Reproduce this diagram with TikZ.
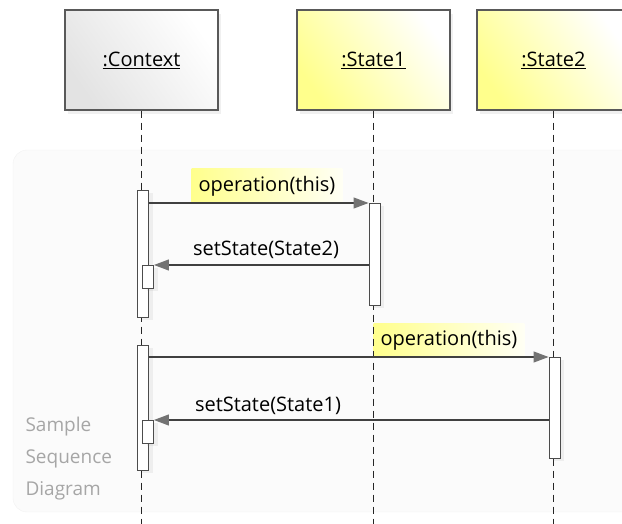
\documentclass[tikz,border=0pt]{standalone}
\usepackage{fontspec}
\setmainfont{Open Sans}
\usetikzlibrary{arrows.meta,shadows}

\begin{document}
\begin{tikzpicture}[x=1pt,y=-1pt,
    font=\fontsize{20}{24}\selectfont,
    obj/.style={draw=black!65, line width=1.2pt, minimum width=153pt, minimum height=100pt,
        drop shadow={shadow xshift=3pt, shadow yshift=-4pt, opacity=0.12}},
    ctxfill/.style={left color=black!11, right color=white, shading angle=125},
    statefill/.style={left color=yellow!45, right color=white, shading angle=125},
    act/.style={draw=black!70, fill=white, line width=0.9pt, minimum width=11pt, inner sep=0pt, anchor=north,
        drop shadow={shadow xshift=4pt, shadow yshift=-3pt, opacity=0.1}},
    life/.style={draw=black!85, line width=1pt, dash pattern=on 7pt off 5pt},
    msg/.style={draw=black!75, line width=1.1pt, -{Triangle[length=15pt,width=11pt,color=black!55]}},
    op/.style={left color=yellow!45, right color=yellow!4, inner xsep=7pt, minimum height=34pt},
    lbl/.style={inner sep=1pt},
    note/.style={text=black!35, align=left, anchor=north west, font=\fontsize{19}{32}\selectfont}]
    \useasboundingbox (0,0) rectangle (622,524);
    % frame
    \draw[black!5, fill=black!1.5, rounded corners=14pt] (13,150) rectangle (640,512);
    \node[note] (sample) at (22,414) {Sample\\Sequence\\Diagram};
    % objects
    \node[obj, ctxfill] (ctx) at (141.5,60) {\underline{:Context}};
    \node[obj, statefill] (st1) at (373.5,60) {\underline{:State1}};
    \node[obj, statefill] (st2) at (553.5,60) {\underline{:State2}};
    % labels
    \node[op] (op1) at (267,186) {operation(this)};
    \node[op] (op2) at (449,340) {operation(this)};
    \node[lbl] (set2) at (266,250) {setState(State2)};
    \node[lbl] (set1) at (268,406) {setState(State1)};
    % lifelines
    \draw[life] (ctx.south) -- (ctx.south |- 0,524);
    \draw[life] (st1.south) -- (st1.south |- 0,524);
    \draw[life] (st2.south) -- (st2.south |- 0,524);
    % activations
    \node[act, minimum height=127pt] (ctxA) at (143,190) {};
    \node[act, minimum height=23pt] (ctxB) at (148,265) {};
    \node[act, minimum height=102pt] (st1A) at (374.5,203) {};
    \node[act, minimum height=125pt] (ctxC) at (143,345) {};
    \node[act, minimum height=23pt] (ctxD) at (148,420) {};
    \node[act, minimum height=101pt] (st2A) at (554.5,357) {};
    % messages
    \draw[msg] (ctxA.east |- st1A.north) -- (st1A.north west);
    \draw[msg] (st1A.west |- ctxB.north) -- (ctxB.north east);
    \draw[msg] (ctxC.east |- st2A.north) -- (st2A.north west);
    \draw[msg] (st2A.west |- ctxD.north) -- (ctxD.north east);
\end{tikzpicture}
\end{document}
